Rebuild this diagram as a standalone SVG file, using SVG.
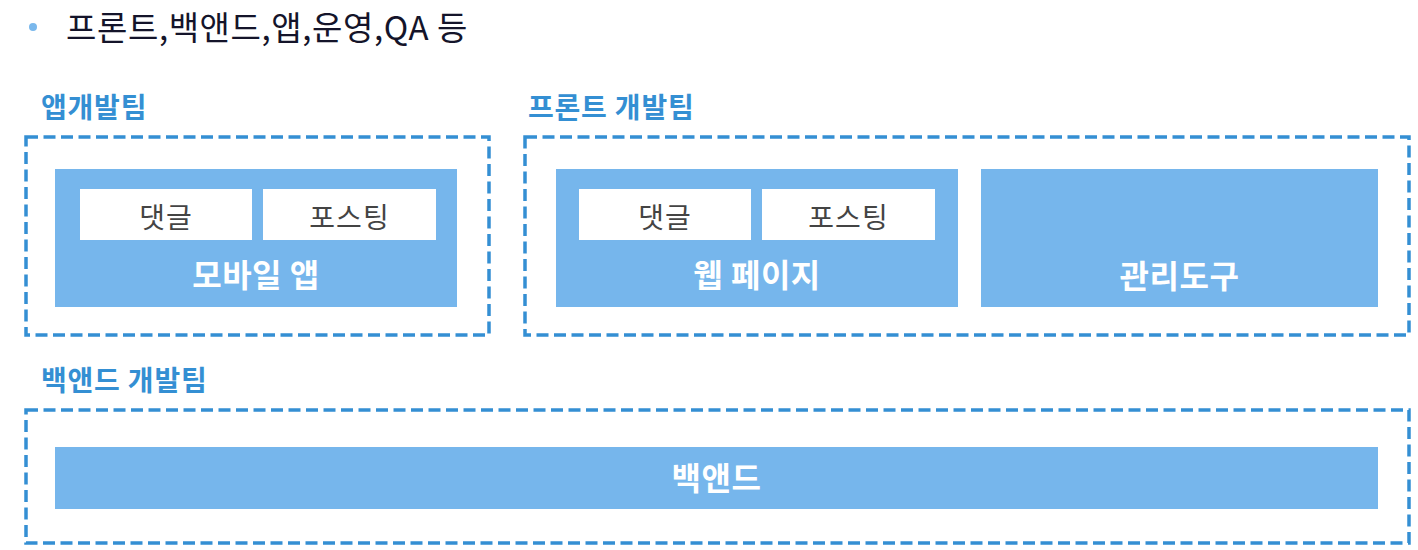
<svg xmlns="http://www.w3.org/2000/svg" width="1418" height="550" viewBox="0 0 1418 550">
<style>
.team{fill:none;stroke:#348fd3;stroke-width:3.5;stroke-dasharray:12 5.5}
.blue{fill:#76b6ec}
.white{fill:#ffffff}
.lbl{font-family:"Noto Sans CJK KR","Noto Sans",sans-serif;font-weight:700;font-size:28px;fill:#348fd3;letter-spacing:0.8px}
.big{font-family:"Noto Sans CJK KR","Noto Sans",sans-serif;font-weight:700;font-size:32px;fill:#ffffff;text-anchor:middle;letter-spacing:0.5px}
.sm{font-family:"Noto Sans CJK KR","Noto Sans",sans-serif;font-size:28px;fill:#444444;text-anchor:middle;letter-spacing:1px}
.hd{font-family:"Noto Sans CJK KR","Noto Sans",sans-serif;font-size:33px;fill:#14142a;letter-spacing:0.6px}
</style>
<rect width="1418" height="550" fill="#ffffff"/>
<g id="header">
<circle cx="33" cy="27" r="4" fill="#7ab8ec"/>
<text class="hd" x="66" y="40">프론트,백앤드,앱,운영,QA 등</text>
</g>
<g id="app-team">
<text class="lbl" x="41" y="118">앱개발팀</text>
<rect class="team" x="26" y="137" width="463" height="198"/>
</g>
<g id="mobile-app">
<rect class="blue" x="55" y="169" width="402" height="138"/>
<rect class="white" x="80" y="189" width="172" height="51"/>
<text class="sm" x="166" y="228">댓글</text>
<rect class="white" x="263" y="189" width="173" height="51"/>
<text class="sm" x="349.5" y="228">포스팅</text>
<text class="big" x="256" y="287">모바일 앱</text>
</g>
<g id="front-team">
<text class="lbl" x="528" y="118">프론트 개발팀</text>
<rect class="team" x="525" y="137" width="884" height="198"/>
</g>
<g id="web-page">
<rect class="blue" x="556" y="169" width="402" height="138"/>
<rect class="white" x="579" y="189" width="172" height="51"/>
<text class="sm" x="665" y="228">댓글</text>
<rect class="white" x="762" y="189" width="173" height="51"/>
<text class="sm" x="848.5" y="228">포스팅</text>
<text class="big" x="757" y="287">웹 페이지</text>
</g>
<g id="admin-tool">
<rect class="blue" x="981" y="169" width="397" height="138"/>
<text class="big" x="1179.5" y="288">관리도구</text>
</g>
<g id="backend-team">
<text class="lbl" x="41" y="391">백앤드 개발팀</text>
<rect class="team" x="26" y="410" width="1383" height="133"/>
</g>
<g id="backend">
<rect class="blue" x="55" y="447" width="1323" height="62"/>
<text class="big" x="716.5" y="490">백앤드</text>
</g>
<g id="connectors"></g>
</svg>
